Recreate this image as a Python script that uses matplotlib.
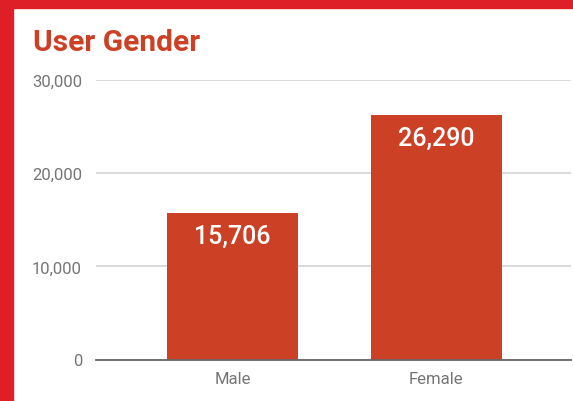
import matplotlib
matplotlib.use("Agg")
import matplotlib.pyplot as plt
from matplotlib.patches import Rectangle

categories = ["Male", "Female"]
values = [15706, 26290]
yticks = [0, 10000, 20000, 30000]
title = "User Gender"

W, H = 573, 402
fig = plt.figure(figsize=(W / 100, H / 100), dpi=100)
fig.patch.set_facecolor("white")
plt.rcParams["font.family"] = ["Roboto", "DejaVu Sans"]

# red frame (left and top)
fig.add_artist(Rectangle((0, 0), 13 / W, 1, transform=fig.transFigure, color="#DF1F27", zorder=0))
fig.add_artist(Rectangle((0, 1 - 9 / H), 1, 9 / H, transform=fig.transFigure, color="#DF1F27", zorder=0))

left, right = 96, 571
top, bottom = 81, 360.5
ax = fig.add_axes([left / W, 1 - bottom / H, (right - left) / W, (bottom - top) / H])
ax.set_facecolor("white")

bar_color = "#CC4125"
x = list(range(len(categories)))
bars = ax.bar(x, values, width=0.644, color=bar_color, zorder=2)
ax.set_xlim(-0.671, 1.663)
ax.set_ylim(0, 30000)
ax.set_yticks(yticks)
ax.set_yticklabels([f"{v:,}" for v in yticks])
ax.set_xticks(x)
ax.set_xticklabels(categories)
ax.tick_params(axis="both", length=0, colors="#757575", labelsize=12)
ax.tick_params(axis="y", pad=10)
ax.tick_params(axis="x", pad=8)
for s in ["top", "right", "left"]:
    ax.spines[s].set_visible(False)
ax.spines["bottom"].set_color("#666666")
ax.spines["bottom"].set_linewidth(1.3)
ax.spines["bottom"].set_zorder(3)
ax.grid(axis="y", color="#D0D0D0", linewidth=1.1, zorder=0)
ax.set_axisbelow(True)

for xi, v in zip(x, values):
    ax.annotate(f"{v:,}", (xi, v), xytext=(0, -23), textcoords="offset pixels",
                ha="center", va="center", color="white", fontsize=18, fontweight="medium")

fig.text(33 / W, 1 - 43 / H, title, color=bar_color, fontsize=21.5, fontweight="bold",
         ha="left", va="center")

fig.savefig("out.png", dpi=100, facecolor="white")
